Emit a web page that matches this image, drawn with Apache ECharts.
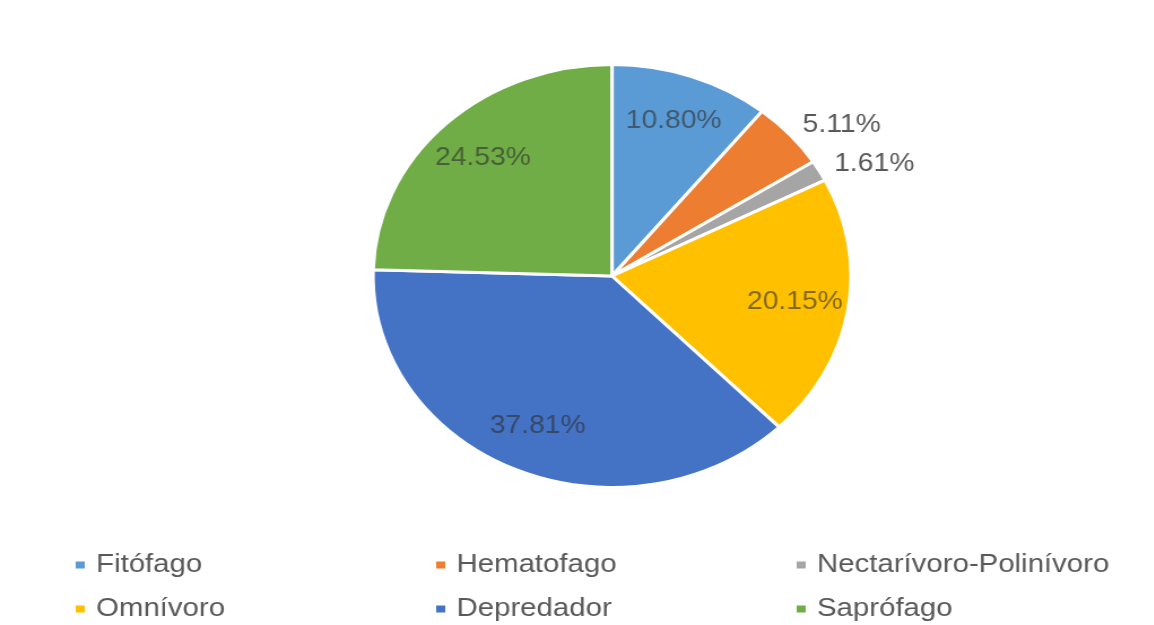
<!DOCTYPE html>
<html>
<head>
<meta charset="utf-8">
<script src="https://cdn.jsdelivr.net/npm/echarts@6/dist/echarts.min.js"></script>
<style>
  html, body { margin: 0; padding: 0; background: #ffffff; overflow: hidden; }
  #wrap { width: 1154px; height: 625px; overflow: hidden; }
  #chart { width: 1021px; height: 625px; transform: scaleX(1.13); transform-origin: 0 0; }
</style>
</head>
<body>
<div id="wrap"><div id="chart"></div></div>
<script>
// Data
const categories = ['Fitófago', 'Hematofago', 'Nectarívoro-Polinívoro', 'Omnívoro', 'Depredador', 'Saprófago'];
const percentages = [10.80, 5.11, 1.61, 20.15, 37.81, 24.53];
const outsideLabelCategories = ['Hematofago', 'Nectarívoro-Polinívoro'];

// Styles
const palette = ['#5B9BD5', '#ED7D31', '#A5A5A5', '#FFC000', '#4472C4', '#70AD47'];
const fontFamily = "'Liberation Sans', Arial, sans-serif";

const chart = echarts.init(document.getElementById('chart'), null, { renderer: 'canvas' });

const pieData = categories.map((name, i) => ({
  name: name,
  value: percentages[i],
  label: { show: outsideLabelCategories.indexOf(name) >= 0 }
}));
const labelData = categories.map((name, i) => ({
  name: name,
  value: percentages[i],
  label: { show: outsideLabelCategories.indexOf(name) < 0 }
}));
const fmt = p => p.value.toFixed(2) + '%';

chart.setOption({
  animation: false,
  backgroundColor: '#ffffff',
  color: palette,
  legend: {
    data: categories,
    left: 60,
    top: 538,
    width: 1000,
    orient: 'horizontal',
    icon: 'rect',
    itemWidth: 10,
    itemHeight: 9,
    itemGap: 0,
    padding: 5,
    selectedMode: false,
    textStyle: {
      fontFamily: fontFamily,
      fontSize: 26,
      color: '#595959',
      width: 299,
      lineHeight: 44,
      height: 44,
      padding: [0, 0, 0, 4]
    }
  },
  series: [
    {
      name: 'main',
      type: 'pie',
      center: [541.6, 276],
      radius: [0, 211.5],
      startAngle: 90,
      clockwise: true,
      avoidLabelOverlap: false,
      silent: true,
      data: pieData,
      itemStyle: { borderColor: '#ffffff', borderWidth: 3 },
      label: {
        position: 'outside',
        formatter: fmt,
        fontFamily: fontFamily,
        fontSize: 25,
        color: '#595959',
        distanceToLabelLine: 1
      },
      labelLine: { show: false, length: 14, length2: 0 }
    },
    {
      name: 'labels',
      type: 'pie',
      center: [541.6, 276],
      radius: [0, 322],
      startAngle: 90,
      clockwise: true,
      avoidLabelOverlap: false,
      silent: true,
      z: 5,
      data: labelData,
      itemStyle: { color: 'rgba(0,0,0,0)', borderWidth: 0 },
      emphasis: { disabled: true },
      label: {
        position: 'inside',
        formatter: fmt,
        fontFamily: fontFamily,
        fontSize: 25,
        color: 'rgba(45,45,45,0.6)'
      },
      labelLine: { show: false }
    }
  ]
});
</script>
</body>
</html>
